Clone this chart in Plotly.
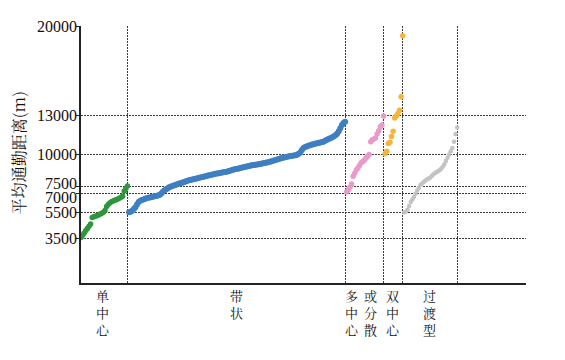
import plotly.graph_objects as go

# ---- data (x = rank within the concatenated groups) ----
categories = ["单中心", "带状", "多中心或分散", "双中心", "过渡型"]

single_center = [3550, 3720, 3900, 4080, 4250, 4420, 4600, 5100, 5150, 5200,
                 5250, 5300, 5360, 5420, 5500, 5650, 5950, 6100, 6230, 6320,
                 6380, 6430, 6480, 6540, 6600, 6680, 6750, 7150, 7350, 7550]

belt = [5500, 5550, 5630, 5750, 5900, 6100, 6300, 6400, 6450, 6500,
        6550, 6600, 6630, 6660, 6690, 6720, 6750, 6780, 6800, 6840,
        6950, 7090, 7200, 7280, 7360, 7450, 7500, 7550, 7590, 7630,
        7680, 7720, 7760, 7800, 7840, 7880, 7930, 7980, 8010, 8040,
        8070, 8100, 8130, 8160, 8190, 8220, 8250, 8280, 8310, 8350,
        8380, 8410, 8440, 8470, 8510, 8530, 8550, 8570, 8590, 8610,
        8630, 8650, 8690, 8730, 8770, 8810, 8850, 8880, 8900, 8930,
        8960, 8990, 9020, 9050, 9080, 9110, 9140, 9170, 9190, 9210,
        9230, 9250, 9270, 9290, 9310, 9340, 9370, 9400, 9430, 9470,
        9510, 9550, 9590, 9630, 9670, 9710, 9740, 9770, 9800, 9830,
        9860, 9880, 9900, 9920, 9950, 9990, 10050, 10150, 10350, 10500,
        10580, 10630, 10680, 10720, 10760, 10800, 10830, 10860, 10890, 10920,
        10950, 10980, 11040, 11100, 11160, 11220, 11290, 11350, 11420, 11500,
        11620, 11800, 12050, 12300, 12450, 12550]

multi_center = [7100, 7250, 7450, 7700, 8300, 8550, 8800, 8950, 9150, 9350,
                9450, 9550, 9700, 9850, 10000, 11000, 11150, 11200, 11280, 11600,
                11850, 12150, 12300, 13000]

dual_center = [10050, 10250, 10850, 10950, 11400, 11800, 12850, 13000, 13200, 13450,
               14500, 19250]

transitional = [5500, 5550, 5700, 6000, 6300, 6500, 6700, 6950, 7200, 7400,
                7600, 7750, 7850, 7950, 8050, 8120, 8200, 8300, 8450, 8550,
                8620, 8700, 8780, 8900, 9050, 9250, 9500, 9750, 10000, 10250,
                10500, 11000, 11600, 12100]

y_ticks = [3500, 5500, 7000, 7500, 10000, 13000, 20000]

series = [single_center, belt, multi_center, dual_center, transitional]
colors = ["#2e963c", "#3e7fc2", "#e99ac9", "#f5b43a", "#c3c3c3"]
sizes = [5.5, 6, 5.5, 5.5, 4.5]

fig = go.Figure()
bounds = []
start = 0
for vals, col, sz in zip(series, colors, sizes):
    xs = [start + j + 1 for j in range(len(vals))]
    fig.add_trace(go.Scatter(x=xs, y=vals, mode="markers",
                             marker=dict(color=col, size=sz, line=dict(width=0)),
                             showlegend=False, hoverinfo="skip"))
    start += len(vals)
    bounds.append(start)

total_right = 279

serif = "Liberation Serif, Times New Roman, serif"
cjk = "Noto Serif CJK SC, Noto Sans CJK SC, serif"
grid_dash = "2px,1px"

fig.update_layout(
    width=565, height=360,
    margin=dict(l=73, r=47, t=18, b=85),
    plot_bgcolor="white", paper_bgcolor="white",
    xaxis=dict(range=[1, total_right], tickvals=bounds, showticklabels=False,
               showgrid=True, gridcolor="#3a3a3a", griddash=grid_dash, gridwidth=1.2,
               zeroline=False, showline=True, linecolor="#222", linewidth=2,
               ticks=""),
    yaxis=dict(range=[0, 20000], tickvals=y_ticks, showticklabels=False,
               showgrid=True, gridcolor="#3a3a3a", griddash=grid_dash, gridwidth=1.2,
               zeroline=False, showline=True, linecolor="#222", linewidth=2,
               ticks="outside", ticklen=3, tickcolor="#222"),
)

# y tick labels (7500 / 7000 nudged apart as in the reference)
label_nudge = {7500: 3, 7000: -4}
for v in y_ticks:
    fig.add_annotation(text=str(v), xref="paper", yref="y", x=0, y=v,
                       xanchor="right", yanchor="middle", xshift=-3,
                       yshift=label_nudge.get(v, 0), showarrow=False, borderpad=0,
                       font=dict(family=serif, size=16, color="#111"))

# y title
fig.add_annotation(text="平均通勤距离(m)", xref="paper", yref="paper",
                   x=0, y=0.505, xanchor="center", yanchor="middle", xshift=-63,
                   textangle=-90, showarrow=False,
                   font=dict(family=cjk, size=16, color="#111"))

# vertical category labels under each group (characters stacked)
starts = [0] + bounds[:-1]
for cat, s, e in zip(categories, starts, bounds):
    center = (s + 1 + e) / 2
    if len(cat) > 3:
        cols = [cat[:3], cat[3:]]
        shifts = [-13, 5]
    else:
        cols = [cat]
        shifts = [-1]
    for txt, sh in zip(cols, shifts):
        fig.add_annotation(text="<br>".join(list(txt)), xref="x", yref="paper",
                           x=center, y=0, xanchor="center", yanchor="top",
                           xshift=sh, yshift=-2, showarrow=False, borderpad=0,
                           align="center",
                           font=dict(family=cjk, size=13, color="#111"))

fig.write_html("out.html")
